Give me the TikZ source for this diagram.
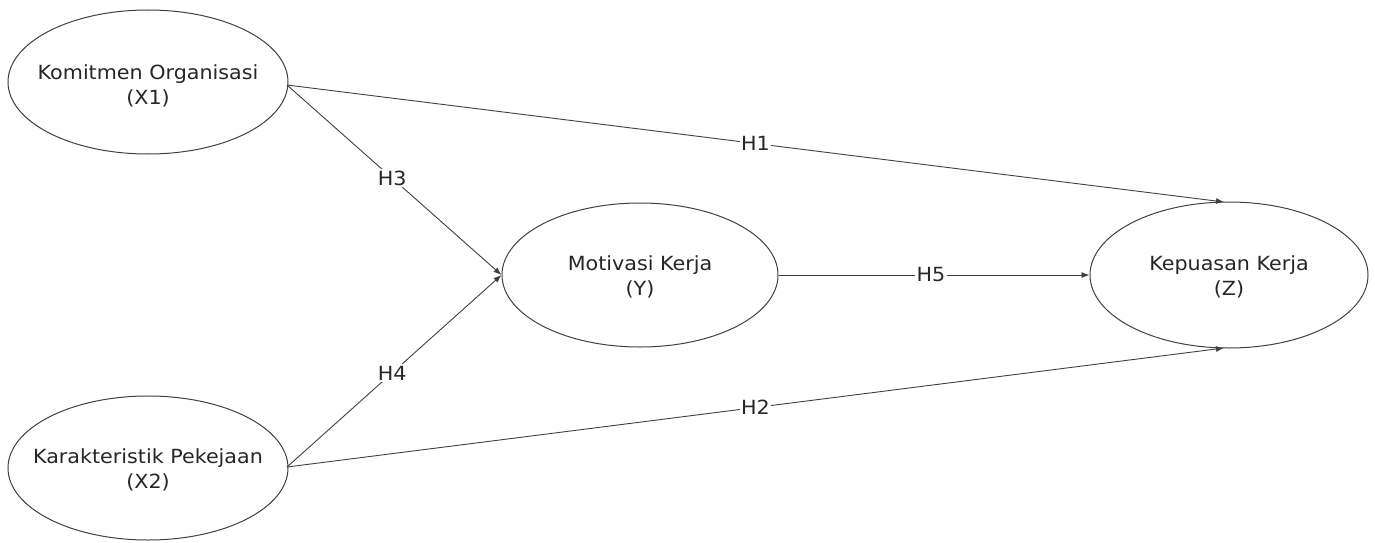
\documentclass[tikz,border=0pt]{standalone}
\usepackage{fontspec}
\setmainfont[FakeStretch=1.06]{DejaVu Sans}
\usetikzlibrary{arrows.meta,shapes.geometric}
\definecolor{linegray}{HTML}{404040}
\definecolor{textgray}{HTML}{262626}
\begin{document}
\begin{tikzpicture}[x=1pt,y=-1pt,
  construct/.style={draw=linegray,line width=1pt,shape=ellipse,minimum width=#1,minimum height=144pt,
     inner sep=0pt},
  ctext/.style={align=center,font=\fontsize{19.5}{25}\selectfont,text=textgray,inner sep=0pt},
  pathline/.style={draw=linegray,line width=0.9pt,-{Latex[length=8pt,width=6pt]}},
  hyp/.style={fill=white,font=\fontsize{19.5}{24}\selectfont,text=textgray,inner sep=1.5pt}]
\useasboundingbox (0,0) rectangle (1375,543);
\node[construct=280pt] (x1) at (148,82) {};
\node[construct=280pt] (x2) at (148,468) {};
\node[construct=276pt] (y) at (640,275) {};
\node[construct=278pt,minimum height=146pt] (z) at (1229,275) {};
\node[ctext] (x1t) at (148,86) {Komitmen Organisasi\\(X1)};
\node[ctext] (x2t) at (148,470) {Karakteristik Pekejaan\\(X2)};
\node[ctext] (yt) at (640,277) {Motivasi Kerja\\(Y)};
\node[ctext] (zt0) at (1229,277) {Kepuasan Kerja\\(Z)};
\coordinate (x1o) at (287,85);
\coordinate (x2o) at (287,467);
\coordinate (zt) at (1224,202);
\coordinate (zb) at (1224,348);
\draw[pathline] (x1o) -- node[hyp,pos=0.5] {H1} (zt);
\draw[pathline] (x1o) -- node[hyp,pos=0.49] {H3} (y.west);
\draw[pathline] (x2o) -- node[hyp,pos=0.49] {H4} (y.west);
\draw[pathline] (x2o) -- node[hyp,pos=0.5] {H2} (zb);
\draw[pathline] (y.east) -- node[hyp,pos=0.49] {H5} (z.west);
\end{tikzpicture}
\end{document}
